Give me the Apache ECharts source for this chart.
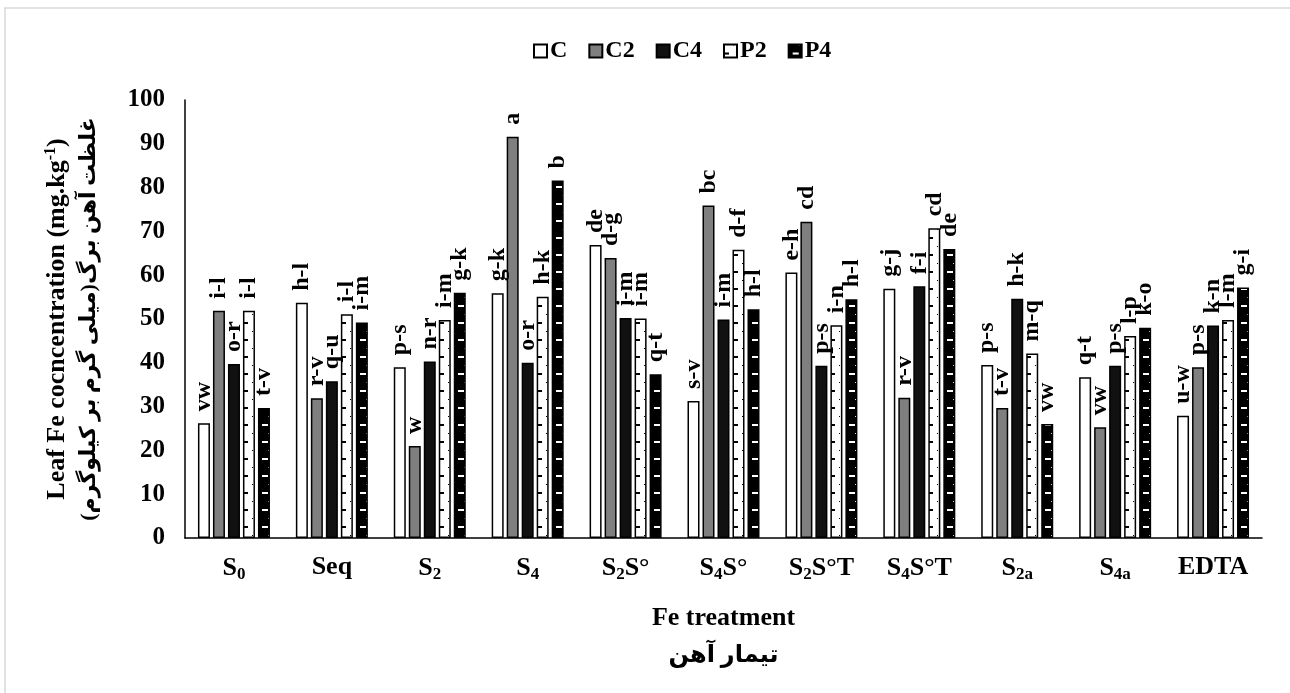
<!DOCTYPE html>
<html>
<head>
<meta charset="utf-8">
<script src="https://cdn.jsdelivr.net/npm/echarts@6/dist/echarts.min.js"></script>
<style>
html,body{margin:0;padding:0;background:#fff;overflow:hidden;}
#chart{width:1290px;height:693px;}
</style>
</head>
<body>
<div id="chart"></div>
<script>
// ---------- data ----------
const categories = ['S0', 'Seq', 'S2', 'S4', 'S2S°', 'S4S°', 'S2S°T', 'S4S°T', 'S2a', 'S4a', 'EDTA'];
const seriesNames = ['C', 'C2', 'C4', 'P2', 'P4'];

const valuesC  = [26.2, 53.7, 39.0, 55.9, 66.9, 31.3, 60.6, 56.9, 39.5, 36.7, 27.9];
const valuesC2 = [51.9, 31.9, 21.0, 91.6, 63.9, 75.9, 72.2, 32.0, 29.7, 25.3, 39.0];
const valuesC4 = [39.7, 35.8, 40.3, 40.0, 50.2, 49.9, 39.3, 57.5, 54.6, 39.3, 48.5];
const valuesP2 = [51.9, 51.1, 49.8, 55.1, 50.1, 65.8, 48.6, 70.7, 42.1, 46.1, 49.8];
const valuesP4 = [29.7, 49.2, 56.0, 81.6, 37.4, 52.2, 54.5, 66.0, 26.0, 48.0, 57.2];

const lettersC  = ['vw', 'h-l', 'p-s', 'g-k', 'de', 's-v', 'e-h', 'g-j', 'p-s', 'q-t', 'u-w'];
const lettersC2 = ['i-l', 'r-v', 'w', 'a', 'd-g', 'bc', 'cd', 'r-v', 't-v', 'vw', 'p-s'];
const lettersC4 = ['o-r', 'q-u', 'n-r', 'o-r', 'i-m', 'i-m', 'p-s', 'f-i', 'h-k', 'p-s', 'k-n'];
const lettersP2 = ['i-l', 'i-l', 'i-m', 'h-k', 'i-m', 'd-f', 'i-n', 'cd', 'm-q', 'l-p', 'l-m'];
const lettersP4 = ['t-v', 'i-m', 'g-k', 'b', 'q-t', 'h-l', 'h-l', 'de', 'vw', 'k-o', 'g-i'];

const yMin = 0, yMax = 100, yInterval = 10;

const yNameEn = 'Leaf Fe cocncentration (mg.kg';
const yNameSup = '-1';
const yNameFa = 'غلظت آهن برگ(میلی گرم بر کیلوگرم)\u200F';
const xNameEn = 'Fe treatment';
const xNameFa = 'تیمار آهن';

// ---------- styles ----------
const FONT = "'Liberation Serif', 'Times New Roman', 'DejaVu Sans', serif";

function makeTile(bg, fg, rects) {
  const c = document.createElement('canvas');
  c.width = 24; c.height = 17;
  const ctx = c.getContext('2d');
  ctx.fillStyle = bg; ctx.fillRect(0, 0, 24, 17);
  ctx.fillStyle = fg;
  rects.forEach(r => ctx.fillRect(r[0], r[1], r[2], r[3]));
  return c;
}
const tileP2 = makeTile('#ffffff', '#000000', [[0, 8, 5, 2], [9, 0, 1, 1]]);
const tileP4 = makeTile('#000000', '#ffffff', [[4, 8, 6, 2], [10, 0, 1, 1]]);

const colors = ['#ffffff', '#7f7f7f', '#111111',
  { image: tileP2, repeat: 'repeat' },
  { image: tileP4, repeat: 'repeat' }];

const allValues = [valuesC, valuesC2, valuesC4, valuesP2, valuesP4];
const allLetters = [lettersC, lettersC2, lettersC4, lettersP2, lettersP4];

function catFormatter(v) {
  return v.replace(/S(\d+a?)/g, 'S{s|$1}').split(/(\{s\|[^}]*\})/).map(p => {
    if (!p) return '';
    if (p.startsWith('{s|')) return p;
    return '{m|' + p + '}';
  }).join('');
}

const chart = echarts.init(document.getElementById('chart'), null, { renderer: 'canvas' });

const series = seriesNames.map((name, k) => ({
  name: name,
  type: 'bar',
  data: allValues[k],
  barWidth: 12,
  barGap: '25%',
  itemStyle: { color: colors[k], borderColor: '#000', borderWidth: 1.5 },
  label: {
    show: true,
    position: 'top',
    rotate: 90,
    align: 'left',
    verticalAlign: 'middle',
    distance: 12,
    color: '#000',
    fontFamily: FONT,
    fontWeight: 'bold',
    fontSize: 24,
    formatter: p => allLetters[k][p.dataIndex]
  }
}));

const option = {
  animation: false,
  backgroundColor: '#fff',
  graphic: [{
    type: 'polyline',
    shape: { points: [[5, 720], [5, 8], [1320, 8]] },
    style: { fill: null, stroke: '#d9d9d9', lineWidth: 1.5 },
    silent: true, z: -1
  }],
  legend: {
    data: seriesNames,
    left: 528, top: 34,
    icon: 'rect',
    itemWidth: 13, itemHeight: 13,
    itemGap: 21,
    textStyle: { fontFamily: FONT, fontWeight: 'bold', fontSize: 24, color: '#000', padding: [0, 0, 0, -2] }
  },
  grid: { left: 185, right: 28, top: 100, bottom: 155, containLabel: false },
  xAxis: {
    type: 'category',
    data: categories,
    axisLine: { lineStyle: { color: '#000', width: 1.5 } },
    axisTick: { show: false },
    axisLabel: {
      interval: 0,
      margin: 16,
      formatter: catFormatter,
      rich: {
        m: { fontFamily: FONT, fontWeight: 'bold', fontSize: 26, color: '#000' },
        s: { fontFamily: FONT, fontWeight: 'bold', fontSize: 17, color: '#000', padding: [12, 0, 0, 0] }
      }
    },
    name: '{en|' + xNameEn + '}\n{fa|' + xNameFa + '}',
    nameLocation: 'middle',
    nameGap: 62,
    nameTextStyle: {
      rich: {
        en: { fontFamily: FONT, fontWeight: 'bold', fontSize: 26, color: '#000', lineHeight: 37 },
        fa: { fontFamily: FONT, fontWeight: 'bold', fontSize: 24, color: '#000', lineHeight: 37 }
      }
    }
  },
  yAxis: {
    type: 'value',
    min: yMin, max: yMax, interval: yInterval,
    axisLine: { show: true, lineStyle: { color: '#000', width: 1.5 } },
    axisTick: { show: false },
    splitLine: { show: false },
    axisLabel: { margin: 20, fontFamily: FONT, fontWeight: 'bold', fontSize: 25, color: '#000' },
    name: '{en|' + yNameEn + '}{sup|' + yNameSup + '}{en|)}\n{fa|' + yNameFa + '}',
    nameLocation: 'middle',
    nameRotate: 90,
    nameGap: 80,
    nameTextStyle: {
      rich: {
        en: { fontFamily: FONT, fontWeight: 'bold', fontSize: 26, color: '#000', lineHeight: 32 },
        sup: { fontFamily: FONT, fontWeight: 'bold', fontSize: 16, color: '#000', padding: [0, 0, 12, 0] },
        fa: { fontFamily: FONT, fontWeight: 'bold', fontSize: 22, color: '#000', lineHeight: 32 }
      }
    }
  },
  series: series
};

chart.setOption(option);

// align the pattern tiles with each patterned bar's own left edge and the baseline
function alignPatterns() {
  const baseY = chart.convertToPixel({ yAxisIndex: 0 }, 0);
  [3, 4].forEach(k => {
    const data = chart.getModel().getSeriesByIndex(k).getData();
    series[k].data = allValues[k].map((v, i) => {
      const lay = data.getItemLayout(i);
      return {
        value: v,
        itemStyle: { color: { image: k === 3 ? tileP2 : tileP4, repeat: 'repeat', x: Math.round(lay.x), y: Math.round(baseY) - 20 } }
      };
    });
  });
  chart.setOption({ series: series });
}
try { alignPatterns(); } catch (e) { console.log(e); }
</script>
</body>
</html>
